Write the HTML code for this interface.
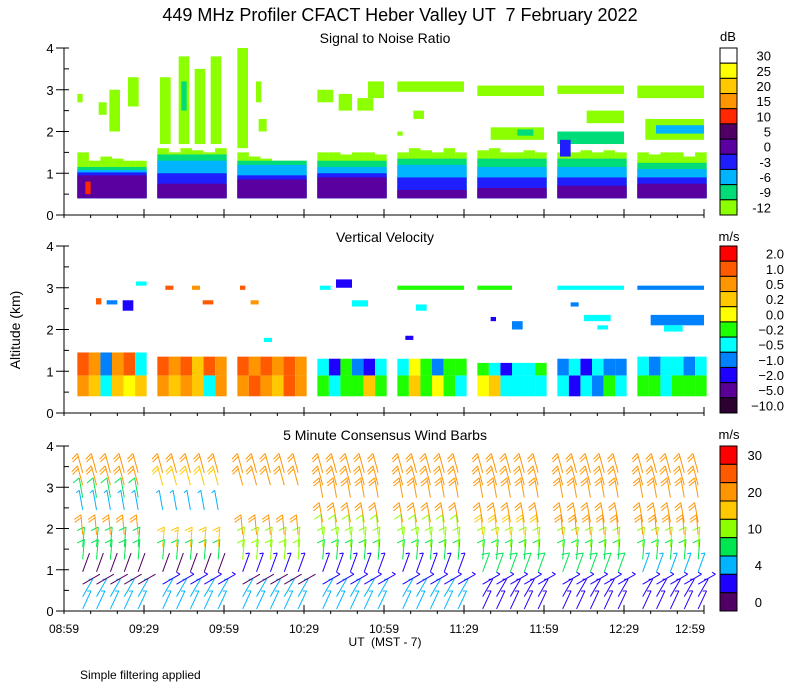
<!DOCTYPE html>
<html><head><meta charset="utf-8"><style>
body{margin:0;background:#fff}
svg{display:block;font-family:"Liberation Sans",sans-serif}
</style></head><body>
<svg id="c" width="800" height="700" viewBox="0 0 800 700" xmlns="http://www.w3.org/2000/svg">
<text x="400" y="21" text-anchor="middle" font-size="18" style="white-space:pre">449 MHz Profiler CFACT Heber Valley UT  7 February 2022</text>
<text x="385" y="43" text-anchor="middle" font-size="14">Signal to Noise Ratio</text>
<text x="385" y="242" text-anchor="middle" font-size="14">Vertical Velocity</text>
<text x="385" y="440" text-anchor="middle" font-size="14">5 Minute Consensus Wind Barbs</text>
<text x="728" y="41" text-anchor="middle" font-size="13">dB</text>
<text x="729" y="241" text-anchor="middle" font-size="13">m/s</text>
<text x="729" y="439" text-anchor="middle" font-size="13">m/s</text>
<text transform="translate(20,330) rotate(-90)" text-anchor="middle" font-size="14">Altitude (km)</text>
<text x="385" y="646" text-anchor="middle" font-size="12" style="white-space:pre">UT  (MST - 7)</text>
<text x="80" y="679" font-size="12">Simple filtering applied</text>
</svg>
<script>
// ---- data ----
const xTickLabels = ["08:59","09:29","09:59","10:29","10:59","11:29","11:59","12:29","12:59"];
const segStart = [5,35,65,95,125,155,185,215];
const segLen = 26;
const snrLevels = [30,25,20,15,10,5,0,-3,-6,-9,-12];
const snrColors = ["#ffffff","#ffff00","#ffc800","#ff9600","#ff2800","#500064","#5a00a0","#1e1eff","#00b4ff","#00dc78","#8cff00"];
const snrLayerVals = [0,-3,-6,-9];
const snrLayerTops = [[0.95,1.02,1.08,1.15],[0.75,1.0,1.3,1.45],[0.85,0.95,1.2,1.3],[0.9,1.0,1.15,1.3],[0.6,0.9,1.2,1.35],[0.65,0.9,1.15,1.35],[0.7,0.9,1.15,1.35],[0.75,0.9,1.1,1.25]];
const snrLimeTops = [[1.5,1.3,1.4,1.35,1.3,1.3],[1.6,1.5,1.6,1.55,1.5,1.6],[1.5,1.4,1.35,1.3,1.3,1.3],[1.5,1.5,1.45,1.5,1.5,1.45],[1.5,1.6,1.55,1.5,1.6,1.5],[1.55,1.6,1.5,1.5,1.55,1.5],[1.5,1.5,1.55,1.5,1.55,1.5],[1.5,1.45,1.5,1.5,1.4,1.5]];
const snrPatchT0 = [5,13,17,24,36,43,49,55,44,65,72,73,95,103,110,114,125,125,131,155,160,170,185,185,196,186,215,218,222,8];
const snrPatchT1 = [7,16,21,28,40,47,53,59,46,69,74,76,101,108,116,120,150,127,135,180,180,176,210,210,210,190,240,240,240,10];
const snrPatchZ0 = [2.7,2.4,2.0,2.6,1.7,1.7,1.7,1.7,2.5,1.6,2.7,2.0,2.7,2.5,2.5,2.8,2.95,1.9,2.3,2.85,1.8,1.9,2.9,1.7,2.2,1.4,2.8,1.8,1.95,0.5];
const snrPatchZ1 = [2.9,2.7,3.0,3.3,3.3,3.8,3.5,3.8,3.2,4.0,3.2,2.3,3.0,2.9,2.8,3.2,3.2,2.0,2.5,3.1,2.1,2.05,3.1,2.0,2.5,1.8,3.1,2.3,2.15,0.8];
const snrPatchVal = [-12,-12,-12,-12,-12,-12,-12,-12,-9,-12,-12,-12,-12,-12,-12,-12,-12,-12,-12,-12,-12,-9,-12,-9,-12,-3,-12,-12,-6,10];

const velLevels = [2,1,0.5,0.2,0,-0.2,-0.5,-1,-2,-5,-10];
const velColors = ["#ff0000","#ff5a00","#ff9600","#ffc800","#ffff00","#1eff00","#00ffff","#0082ff","#1e00ff","#5a0096","#2d0032"];
const velTop = [1.45,1.35,1.35,1.3,1.3,1.2,1.3,1.35];
const velLow = [[0.5,0.2,-0.5,0.2,0,0.2],[0.5,0.2,0.5,0.2,-0.5,0.5],[0.5,1,0.5,0.2,1,0.5],[-0.2,-0.5,-0.2,-0.2,0.2,-0.2],[-0.2,0.2,-0.2,0,-0.2,-0.5],[0,0.2,-0.5,-0.5,-0.5,-0.5],[-0.5,-2,-0.5,-1,-0.2,-0.5],[-0.2,-0.2,-0.5,-0.2,-0.2,-0.2]];
const velHigh = [[1,0.5,-1,0.5,1,-0.5],[1,0.5,1,0.2,1,0.5],[1,0.5,1,0.5,1,0.5],[-0.5,-2,-0.2,-1,-2,-0.5],[-0.5,0,-0.2,-1,-0.2,-0.2],[-0.2,-0.5,-2,-0.5,-0.5,-0.2],[-1,-0.5,-2,-0.5,-1,-1],[-0.5,-1,-0.5,-0.5,-1,-0.5]];
const velPatchT0 = [12,16,22,27,38,48,52,66,70,75,96,102,108,125,132,155,168,185,195,215,220,225,128,160,190,200];
const velPatchT1 = [14,20,26,31,41,51,56,68,73,78,100,108,114,150,136,168,172,210,205,240,240,232,131,162,193,204];
const velPatchZ0 = [2.6,2.6,2.45,3.05,2.95,2.95,2.6,2.95,2.6,1.7,2.95,3.0,2.55,2.95,2.45,2.95,2.0,2.95,2.2,2.95,2.1,1.95,1.75,2.2,2.55,2.0];
const velPatchZ1 = [2.75,2.7,2.7,3.15,3.05,3.05,2.7,3.05,2.7,1.8,3.05,3.2,2.7,3.05,2.6,3.05,2.2,3.05,2.35,3.05,2.35,2.1,1.85,2.3,2.65,2.1];
const velPatchVal = [1,-1,-2,-0.5,1,0.5,1,1,0.5,-0.5,-0.5,-2,-0.5,-0.2,-0.5,-0.2,-1,-0.5,-0.5,-1,-1,-0.5,-2,-2,-1,-0.5];

const windAlts = [0.05,0.35,0.65,0.95,1.25,1.55,1.85,2.15,2.45,2.75,3.05,3.35];
const windColors = ["#ff0000","#ff5a00","#ff9600","#ffc800","#8cff00","#00e650","#00b4ff","#1e00ff","#500064"];
const windLabels = ["30","","20","","10","","4","","0"];
const windSpd = [
 [4,4,1,1,8,9,20,null,4,9,21,22],
 [4,4,3,1,9,15,null,null,4,null,18,21],
 [4,4,1,3,12,10,20,null,null,null,21,22],
 [5,5,3,3,9,12,12,20,null,21,22,22],
 [5,5,3,3,9,12,12,20,null,21,22,21],
 [3,3,3,8,9,12,18,20,null,20,21,21],
 [3,3,3,8,9,12,20,20,null,20,21,22],
 [3,3,3,5,9,12,20,20,null,20,21,22]];
const windDir = [25,30,60,20,5,5,355,350,350,350,345,345];
// ---- geometry ----
const svg = document.getElementById('c');
const NS = "http://www.w3.org/2000/svg";
const panelTop = [48,246,446], panelBot = [215,413,611];
const X0 = 64, X1 = 704;
function xs(m){return X0 + m*(X1-X0)/240;}
function ys(p,km){return panelBot[p] - km*(panelBot[p]-panelTop[p])/4;}
function mk(tag, attrs, parent){const e=document.createElementNS(NS,tag);for(const k in attrs)e.setAttribute(k,attrs[k]);(parent||svg).appendChild(e);return e;}
function nearest(levels, v){let bi=0,bd=1e9;levels.forEach((l,i)=>{const d=Math.abs(l-v);if(d<bd){bd=d;bi=i;}});return bi;}
function cell(p,t0,t1,z0,z1,color,name){
  const r=mk('rect',{x:xs(t0),y:ys(p,z1),width:xs(t1)-xs(t0),height:ys(p,z0)-ys(p,z1),fill:color});
  
  
}
// SNR panel
segStart.forEach((s,si)=>{
  const sub = segLen/6;
  snrLimeTops[si].forEach((top,k)=>cell(0,s+k*sub,s+(k+1)*sub,0.4,top,snrColors[10],'snr-cell'));
  const tops=snrLayerTops[si];
  for(let i=3;i>=0;i--){cell(0,s,s+segLen,0.4,tops[i],snrColors[nearest(snrLevels,snrLayerVals[i])],'snr-cell');}
});
snrPatchT0.forEach((t0,i)=>cell(0,t0,snrPatchT1[i],snrPatchZ0[i],snrPatchZ1[i],snrColors[nearest(snrLevels,snrPatchVal[i])],'snr-patch'));
// Velocity panel
segStart.forEach((s,si)=>{
  const sub=segLen/6;
  for(let k=0;k<6;k++){
    cell(1,s+k*sub,s+(k+1)*sub,0.4,0.9,velColors[nearest(velLevels,velLow[si][k])],'velocity-cell');
    cell(1,s+k*sub,s+(k+1)*sub,0.9,velTop[si],velColors[nearest(velLevels,velHigh[si][k])],'velocity-cell');
  }
});
velPatchT0.forEach((t0,i)=>cell(1,t0,velPatchT1[i],velPatchZ0[i],velPatchZ1[i],velColors[nearest(velLevels,velPatchVal[i])],'velocity-patch'));
// Wind barbs
function windColor(s){const th=[30,25,20,15,10,7,4,2,0];for(let i=0;i<th.length;i++)if(s>=th[i])return windColors[i];return windColors[8];}
segStart.forEach((s,si)=>{
  for(let k=0;k<5;k++){
    const t=s+2+k*5.2;
    windAlts.forEach((z,ai)=>{
      const sp=windSpd[si][ai]; if(sp===null) return;
      const d=windDir[ai]*Math.PI/180;
      const bx=xs(t), by=ys(2,z);
      const L=20, ux=Math.sin(d), uy=-Math.cos(d);
      const tx=bx+ux*L, ty=by+uy*L;
      const g=mk('g',{stroke:windColor(sp),'stroke-width':1,fill:'none'});
      
      
      mk('line',{x1:bx,y1:by,x2:tx,y2:ty},g);
      const a=-2.1, fx=ux*Math.cos(a)-uy*Math.sin(a), fy=ux*Math.sin(a)+uy*Math.cos(a);
      let n=Math.round(sp/5), pos=0;
      while(n>=2){const px=tx-ux*pos,py=ty-uy*pos;mk('line',{x1:px,y1:py,x2:px+fx*8,y2:py+fy*8},g);n-=2;pos+=3;}
      if(n===1){const px=tx-ux*pos,py=ty-uy*pos;mk('line',{x1:px,y1:py,x2:px+fx*4,y2:py+fy*4},g);}
    });
  }
});
// Axes
for(let p=0;p<3;p++){
  const ax=mk('g',{stroke:'#000','stroke-width':1});
  
  
  mk('line',{x1:X0,y1:panelTop[p],x2:X0,y2:panelBot[p]},ax);
  mk('line',{x1:X0,y1:panelBot[p],x2:X1,y2:panelBot[p]},ax);
  for(let k=0;k<=8;k++){const y=ys(p,k/2);mk('line',{x1:X0-(k%2?0:8),y1:y,x2:X0+5,y2:y},ax);}
  for(let m=0;m<=240;m+=10){const x=xs(m);const maj=m%30===0;mk('line',{x1:x,y1:panelBot[p]-(maj?6:0),x2:x,y2:panelBot[p]+3},ax);}
  for(let k=0;k<=4;k++){
    const t=mk('text',{x:50,y:ys(p,k)+5,'text-anchor':'middle','font-size':13});
    t.textContent=k;
    
    
  }
}
xTickLabels.forEach((lab,i)=>{
  const t=mk('text',{x:Math.min(xs(i*30),690),y:633,'text-anchor':'middle','font-size':12});
  t.textContent=lab;
  
  
});
// Colorbars
function colorbar(p,colors,labels,labelX){
  const n=colors.length,h=(panelBot[p]-panelTop[p])/n;
  colors.forEach((c,i)=>{
    const r=mk('rect',{x:720,y:panelTop[p]+i*h,width:17,height:h,fill:c,stroke:'#000','stroke-width':1});
    
    
    if(labels[i]!==""){
      const t=mk('text',{x:labelX,y:panelTop[p]+(i+0.5)*h+5,'text-anchor':'end','font-size':13});
      t.textContent=labels[i];
      
      
    }
  });
}
colorbar(0,snrColors,snrLevels.map(String),771);
colorbar(1,velColors,velLevels.map(v=>v.toFixed(1).replace('-','\u2212')),784);
colorbar(2,windColors,windLabels,762);
</script>
</body></html>
